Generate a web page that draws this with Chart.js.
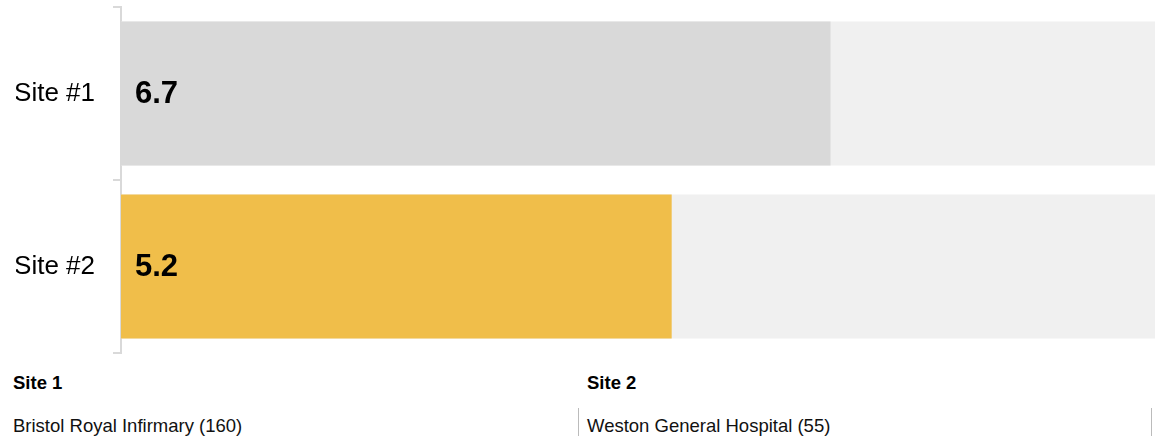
<!DOCTYPE html>
<html>
<head>
<meta charset="utf-8">
<script src="https://cdn.jsdelivr.net/npm/chart.js@4.4.0/dist/chart.umd.min.js"></script>
<style>
  body { margin: 0; overflow: hidden; background: #fff; font-family: Arial, "Liberation Sans", sans-serif; }
  #wrap { position: absolute; left: 0; top: 0; width: 1180px; height: 360px; }
  #sites { position: absolute; left: 0; top: 360px; width: 1155px; }
  .col { position: absolute; top: 0; width: 573px; height: 76px; }
  .col h4 { margin: 0; position: absolute; top: 14px; font-size: 18.5px; line-height: 1; font-weight: bold; color: #000; }
  .col .name { position: absolute; top: 48px; height: 28px; font-size: 18.5px; color: #111; line-height: 1; padding-top: 9px; box-sizing: border-box; white-space: nowrap; }
</style>
</head>
<body>
<div id="wrap"><canvas id="chart"></canvas></div>
<div id="sites">
  <div class="col" style="left:0"><h4 style="left:13px">Site 1</h4><div class="name" style="left:13px;width:566px;border-right:1px solid #bbb">Bristol Royal Infirmary (160)</div></div>
  <div class="col" style="left:578px"><h4 style="left:9px">Site 2</h4><div class="name" style="left:9px;width:565px;border-right:1px solid #bbb">Weston General Hospital (55)</div></div>
</div>
<script>
const categories = ['Site #1', 'Site #2'];
const scores = [6.7, 5.2];
const scoreMax = [10, 10];
const barColors = ['#d9d9d9', '#f0be4a'];

// writes the score in bold just inside the start of each bar
const valueLabels = {
    id: 'valueLabels',
    afterDatasetsDraw(chart) {
        const ctx = chart.ctx;
        const meta = chart.getDatasetMeta(0);
        ctx.save();
        ctx.font = 'bold 31px Arial, "Liberation Sans", sans-serif';
        ctx.fillStyle = '#000';
        ctx.textBaseline = 'middle';
        meta.data.forEach((bar, i) => {
            ctx.fillText(scores[i].toFixed(1), bar.base + 14, bar.y + 1);
        });
        ctx.restore();
    }
};

const ctx = document.getElementById('chart').getContext('2d');
new Chart(ctx, {
    type: 'bar',
    data: {
        labels: categories,
        datasets: [{
            data: scores,
            backgroundColor: barColors,
            grouped: false,
            categoryPercentage: 1,
            barPercentage: 0.832
        }, {
            data: scoreMax,
            backgroundColor: '#f0f0f0',
            grouped: false,
            categoryPercentage: 1,
            barPercentage: 0.832
        }]
    },
    options: {
        indexAxis: 'y',
        responsive: true,
        maintainAspectRatio: false,
        animation: false,
        layout: { padding: { left: 16, top: 7, bottom: 7, right: 0 } },
        plugins: { legend: { display: false }, tooltip: { enabled: false } },
        scales: {
            x: { display: false, min: 0, max: 10 },
            y: {
                // labels sit mid-category, so no extra room is needed at the ends
                afterFit(scale) {
                    scale.paddingTop = 0;
                    scale.paddingBottom = 0;
                    scale.width = 105;
                },
                grid: { drawOnChartArea: false, color: '#d9d9d9', lineWidth: 2, tickLength: 8, offset: true },
                border: { color: '#d9d9d9', width: 2 },
                ticks: { color: '#000', padding: 18, font: { size: 26, family: 'Arial, "Liberation Sans", sans-serif' } }
            }
        }
    },
    plugins: [valueLabels]
});
</script>
</body>
</html>
